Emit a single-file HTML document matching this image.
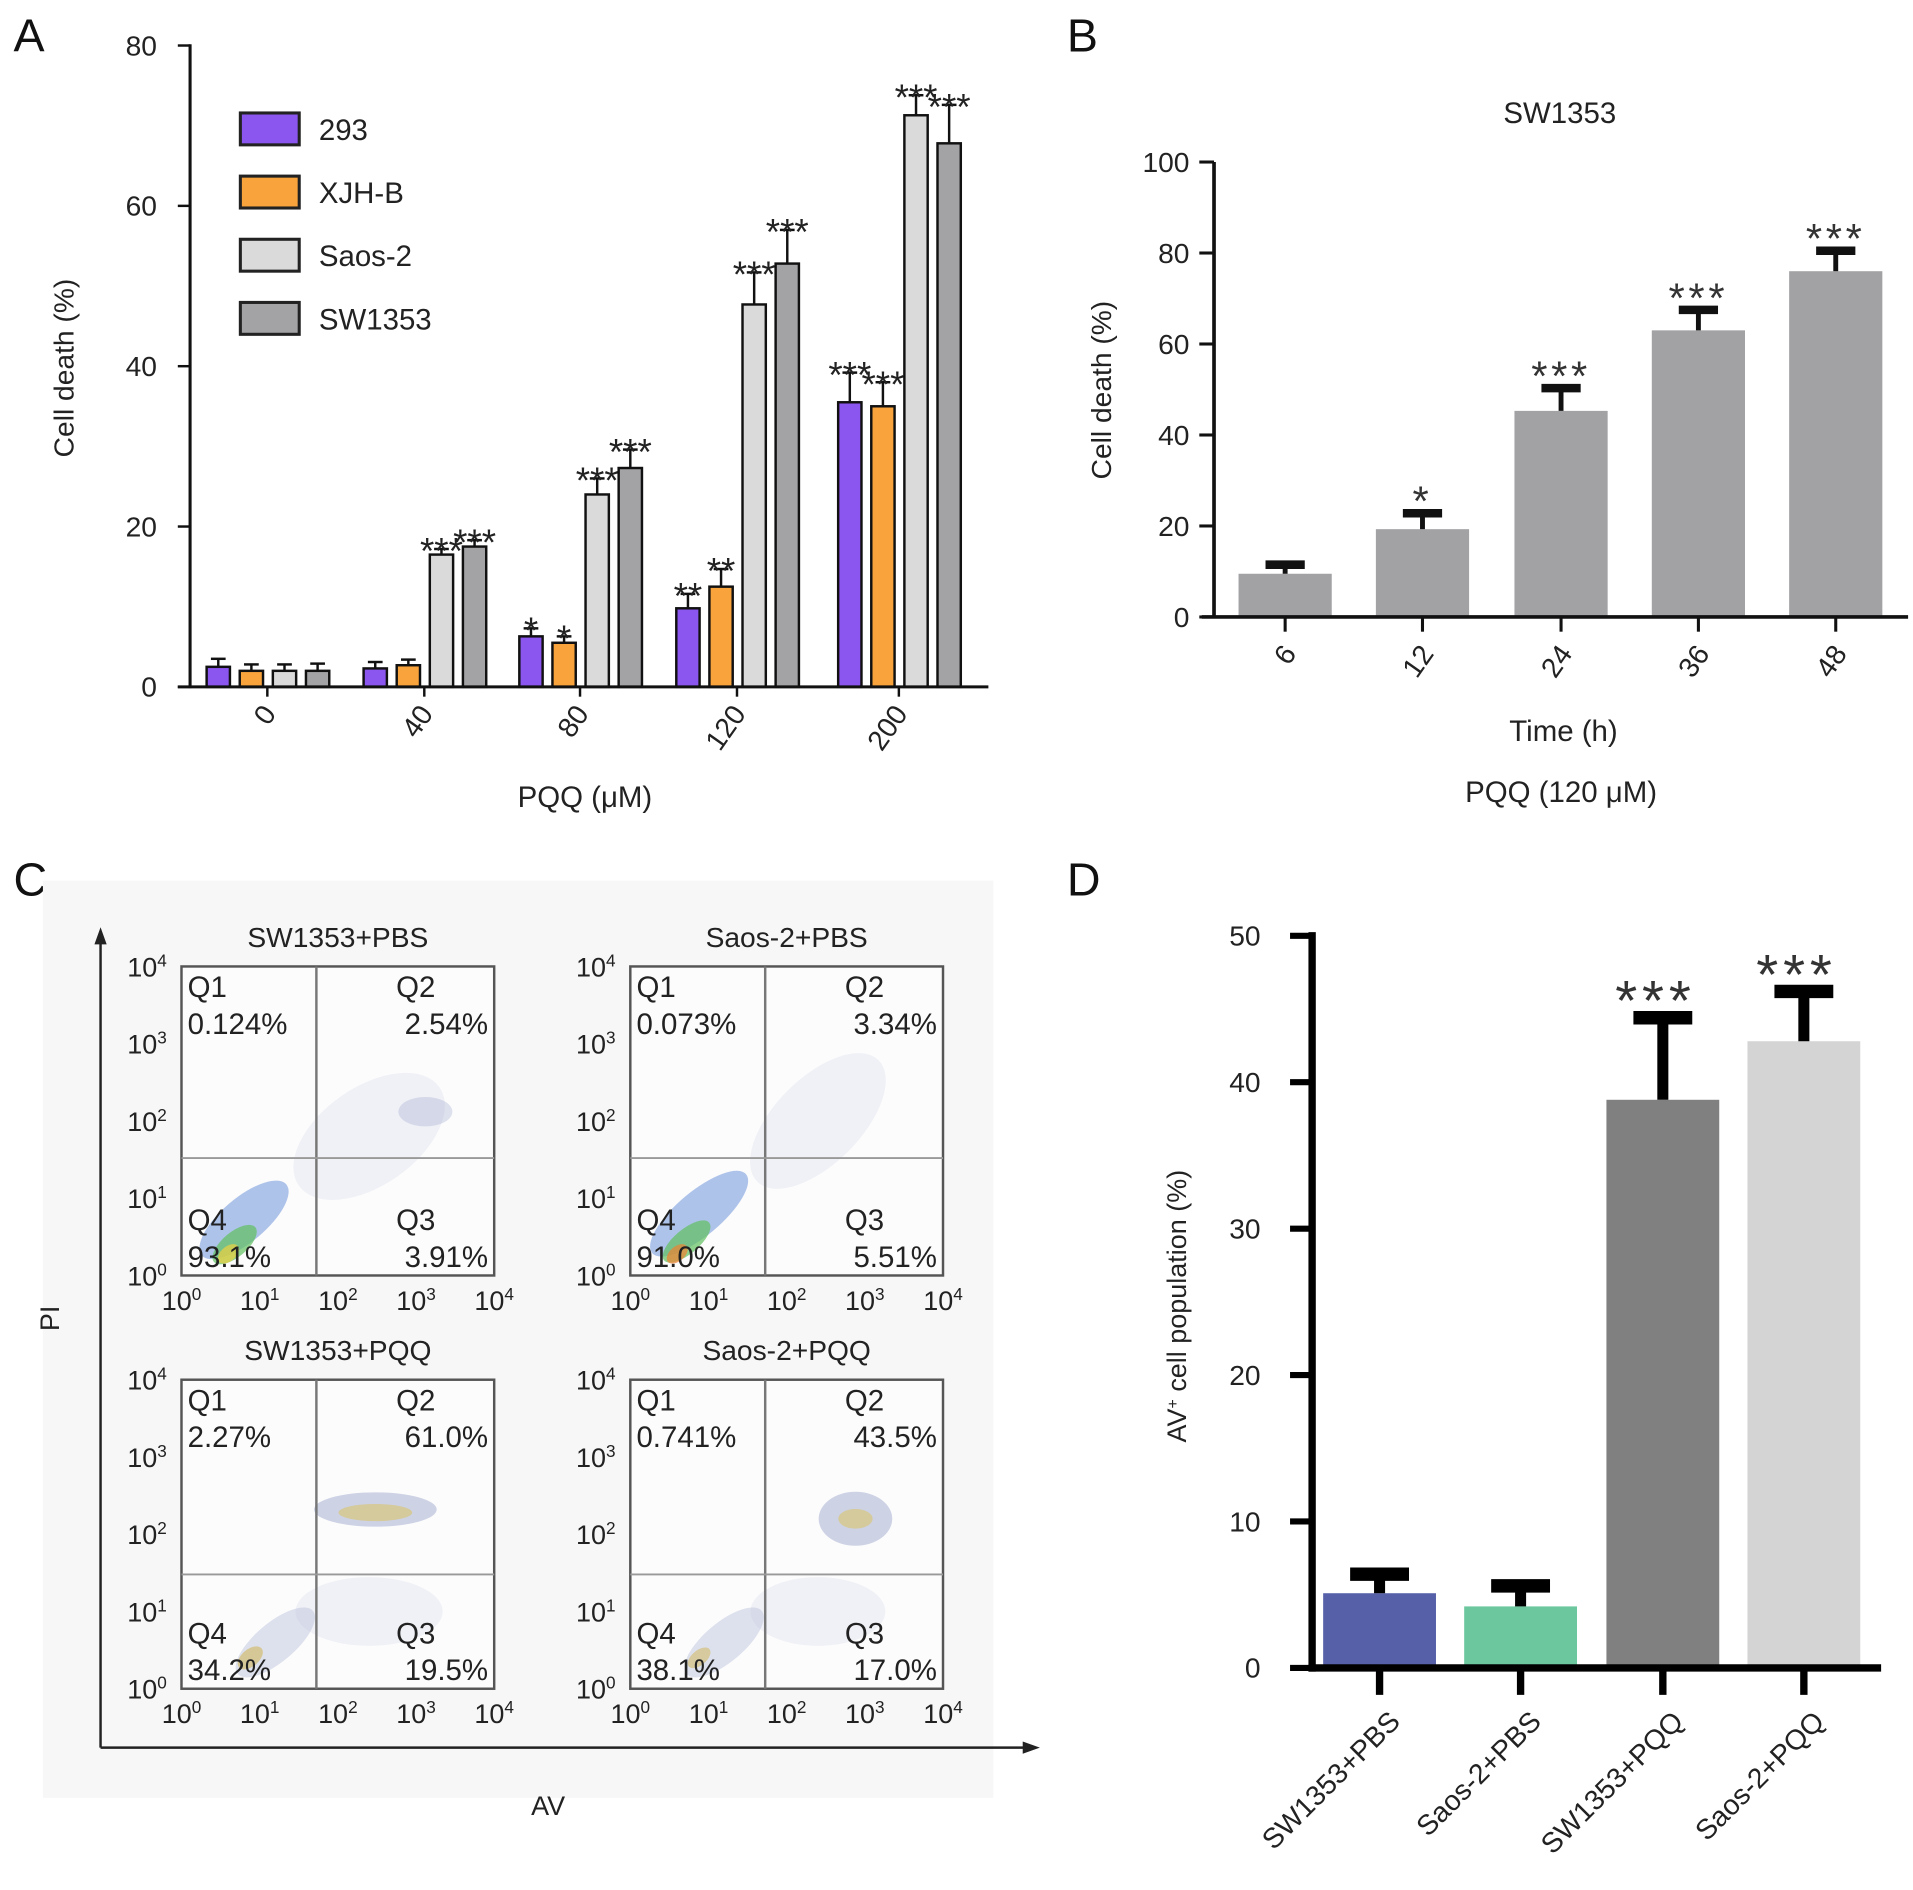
<!DOCTYPE html>
<html><head><meta charset="utf-8"><style>
html,body{margin:0;padding:0;background:#fff;}
svg{display:block;font-family:"Liberation Sans",Arial,sans-serif;}
</style></head><body>
<svg id="fig" width="1913" height="1890" viewBox="0 0 1560 1541" xmlns="http://www.w3.org/2000/svg">
<rect width="1560" height="1541" fill="#fff"/>
</svg>
<script>
// ---- Panel A data ----
const aCategories = ["0","40","80","120","200"];
const aSeriesNames = ["293","XJH-B","Saos-2","SW1353"];
const a293 = [2.5,2.3,6.3,9.8,35.5];
const aXJHB = [2.0,2.7,5.5,12.5,35.0];
const aSaos = [2.0,16.5,24.0,47.7,71.3];
const aSW = [2.0,17.5,27.3,52.8,67.8];
const a293Err = [1.0,0.8,1.0,1.8,3.7];
const aXJHBErr = [0.8,0.7,0.8,2.2,3.0];
const aSaosErr = [0.8,0.7,2.0,4.0,2.5];
const aSWErr = [0.9,0.8,2.3,4.2,4.8];
const a293Stars = ["","","*","**","***"];
const aXJHBStars = ["","","*","**","***"];
const aSaosStars = ["","***","***","***","***"];
const aSWStars = ["","***","***","***","***"];
const aTicks = [0,20,40,60,80];
// ---- Panel B data ----
const bCategories = ["6","12","24","36","48"];
const bValues = [9.5,19.3,45.3,63.0,76.0];
const bErr = [2.0,3.5,5.0,4.5,4.5];
const bStars = ["","*","***","***","***"];
const bTicks = [0,20,40,60,80,100];
// ---- Panel D data ----
const dCategories = ["SW1353+PBS","Saos-2+PBS","SW1353+PQQ","Saos-2+PQQ"];
const dValues = [5.1,4.2,38.8,42.8];
const dErr = [1.3,1.4,5.6,3.4];
const dStars = ["","","***","***"];
const dTicks = [0,10,20,30,40,50];
// ---- Panel C data ----
const cTitles = ["SW1353+PBS","Saos-2+PBS","SW1353+PQQ","Saos-2+PQQ"];
const cQ1 = ["0.124%","0.073%","2.27%","0.741%"];
const cQ2 = ["2.54%","3.34%","61.0%","43.5%"];
const cQ3 = ["3.91%","5.51%","19.5%","17.0%"];
const cQ4 = ["93.1%","91.0%","34.2%","38.1%"];

const NS="http://www.w3.org/2000/svg";
const svg=document.getElementById('fig');
function el(tag,attrs,parent,text){const e=document.createElementNS(NS,tag);for(const k in attrs)e.setAttribute(k,attrs[k]);if(text!==undefined)e.textContent=text;(parent||svg).appendChild(e);return e;}
function grp(name){const g=el('g',{});return g;}

[["A",27,42],["B",886,42],["C",27,730],["D",886,730]].forEach(p=>{
 const t=el('text',{x:p[1]-16,y:p[2],'font-size':38,fill:'#111'},svg,p[0]);
 
 
});

// ===== Panel A =====
(function(){
 const g=grp('panel-a-chart');
 const y0=560,yTop=37,vMax=80;
 const ys=v=>y0-(y0-yTop)*v/vMax;
 const centers=[218,346,473,601,733];
 const offs=[-40,-13,14,41];
 const bw=19;
 const colors=["#8b55f0","#f8a33c","#dadada","#a3a3a6"];
 const vals=[a293,aXJHB,aSaos,aSW],errs=[a293Err,aXJHBErr,aSaosErr,aSWErr],stars=[a293Stars,aXJHBStars,aSaosStars,aSWStars];
 aCategories.forEach((c,i)=>{
  vals.forEach((arr,s)=>{
   const cx=centers[i]+offs[s],v=arr[i],e=errs[s][i];
   const r=el('rect',{x:cx-bw/2,y:ys(v),width:bw,height:y0-ys(v),fill:colors[s],stroke:'#111','stroke-width':2},g);
   
   
   el('line',{x1:cx,x2:cx,y1:ys(v),y2:ys(v+e),stroke:'#111','stroke-width':2},g);
   el('line',{x1:cx-6,x2:cx+6,y1:ys(v+e),y2:ys(v+e),stroke:'#111','stroke-width':2},g);
   if(stars[s][i]){const t=el('text',{x:cx,y:ys(v+e)+12,'font-size':30,'text-anchor':'middle',fill:'#222'},g,stars[s][i]);
    }
  });
  el('line',{x1:centers[i],x2:centers[i],y1:y0,y2:y0+8,stroke:'#111','stroke-width':2},g);
  const t=el('text',{x:0,y:0,'font-size':23,'text-anchor':'end',fill:'#222',transform:`translate(${centers[i]+8},${y0+22}) rotate(-55)`},g,c);
  
 });
 el('line',{x1:155,x2:155,y1:yTop-1,y2:y0+1,stroke:'#111','stroke-width':2.5},g);
 el('line',{x1:145,x2:806,y1:y0,y2:y0,stroke:'#111','stroke-width':2.5},g);
 aTicks.forEach(v=>{el('line',{x1:145,x2:155,y1:ys(v),y2:ys(v),stroke:'#111','stroke-width':2},g);
  const t=el('text',{x:128,y:ys(v)+8,'font-size':23,'text-anchor':'end',fill:'#222'},g,String(v));
  });
 const yt=el('text',{x:0,y:0,'font-size':23,'text-anchor':'middle',fill:'#222',transform:'translate(60,300) rotate(-90)'},g,'Cell death (%)');
 
 const xt=el('text',{x:477,y:658,'font-size':24,'text-anchor':'middle',fill:'#222'},g,'PQQ (μM)');
 
 aSeriesNames.forEach((n,s)=>{
  const yy=105+s*51.5;
  const r=el('rect',{x:196,y:yy-13,width:48,height:26,fill:colors[s],stroke:'#222','stroke-width':2.5},g);
  
  const t=el('text',{x:260,y:yy+9,'font-size':24,fill:'#222'},g,n);
  
 });
})();

// ===== Panel B =====
(function(){
 const g=grp('panel-b-chart');
 const y0=503,yTop=132,vMax=100;
 const ys=v=>y0-(y0-yTop)*v/vMax;
 const centers=[1048,1160,1273,1385,1497],bw=76;
 bCategories.forEach((c,i)=>{
  const cx=centers[i],v=bValues[i],e=bErr[i];
  const r=el('rect',{x:cx-bw/2,y:ys(v),width:bw,height:y0-ys(v),fill:'#a2a2a5'},g);
  
  el('line',{x1:cx,x2:cx,y1:ys(v),y2:ys(v+e),stroke:'#111','stroke-width':4},g);
  el('line',{x1:cx-16,x2:cx+16,y1:ys(v+e),y2:ys(v+e),stroke:'#111','stroke-width':7},g);
  if(bStars[i]){const t=el('text',{x:cx,y:ys(v+e)+2,'font-size':34,'text-anchor':'middle','letter-spacing':3,fill:'#333'},g,bStars[i]);
   }
  el('line',{x1:cx,x2:cx,y1:y0,y2:y0+12,stroke:'#111','stroke-width':2.5},g);
  const t=el('text',{x:0,y:0,'font-size':23,'text-anchor':'end',fill:'#222',transform:`translate(${cx+10},${y0+30}) rotate(-55)`},g,c);
  
 });
 el('line',{x1:990,x2:990,y1:yTop,y2:y0,stroke:'#111','stroke-width':3},g);
 el('line',{x1:980,x2:1556,y1:y0,y2:y0,stroke:'#111','stroke-width':3},g);
 bTicks.forEach(v=>{el('line',{x1:978,x2:990,y1:ys(v),y2:ys(v),stroke:'#111','stroke-width':2.5},g);
  const t=el('text',{x:970,y:ys(v)+8,'font-size':23,'text-anchor':'end',fill:'#222'},g,String(v));
  });
 const tt=el('text',{x:1272,y:100,'font-size':24,'text-anchor':'middle',fill:'#222'},g,'SW1353');
 
 const yt=el('text',{x:0,y:0,'font-size':23,'text-anchor':'middle',fill:'#222',transform:'translate(906,318) rotate(-90)'},g,'Cell death (%)');
 
 const xt=el('text',{x:1275,y:604,'font-size':24,'text-anchor':'middle',fill:'#222'},g,'Time (h)');
 
 const xt2=el('text',{x:1273,y:654,'font-size':24,'text-anchor':'middle',fill:'#222'},g,'PQQ (120 μM)');
 
})();

// ===== Panel D =====
(function(){
 const g=grp('panel-d-chart');
 const y0=1360,yTop=763,vMax=50;
 const ys=v=>y0-(y0-yTop)*v/vMax;
 const centers=[1125,1240,1356,1471],bw=92;
 const colors=["#5560a8","#6cc79f","#808080","#d4d4d4"];
 dCategories.forEach((c,i)=>{
  const cx=centers[i],v=dValues[i],e=dErr[i];
  const r=el('rect',{x:cx-bw/2,y:ys(v),width:bw,height:y0-ys(v),fill:colors[i]},g);
  
  el('line',{x1:cx,x2:cx,y1:ys(v),y2:ys(v+e),stroke:'#000','stroke-width':9},g);
  el('line',{x1:cx-24,x2:cx+24,y1:ys(v+e),y2:ys(v+e),stroke:'#000','stroke-width':11},g);
  if(dStars[i]){const t=el('text',{x:cx-6,y:ys(v+e)+2,'font-size':46,'text-anchor':'middle','letter-spacing':4,fill:'#333'},g,dStars[i]);
   }
  el('line',{x1:cx,x2:cx,y1:y0,y2:y0+22,stroke:'#000','stroke-width':6},g);
  const t=el('text',{x:0,y:0,'font-size':23,'text-anchor':'end',fill:'#222',transform:`translate(${cx+18},${y0+45}) rotate(-45)`},g,c);
  
 });
 el('line',{x1:1070,x2:1070,y1:yTop-3,y2:y0+3,stroke:'#000','stroke-width':6},g);
 el('line',{x1:1067,x2:1534,y1:y0,y2:y0,stroke:'#000','stroke-width':6},g);
 dTicks.forEach(v=>{el('line',{x1:1052,x2:1070,y1:ys(v),y2:ys(v),stroke:'#000','stroke-width':5},g);
  const t=el('text',{x:1028,y:ys(v)+8,'font-size':23,'text-anchor':'end',fill:'#222'},g,String(v));
  });
 const yt=el('text',{x:0,y:0,'font-size':22,'text-anchor':'middle',fill:'#222',transform:'translate(967,1065) rotate(-90)'},g);
 el('tspan',{},yt,'AV');el('tspan',{'baseline-shift':'super','font-size':13},yt,'+');el('tspan',{},yt,' cell population (%)');
 
})();

// ===== Panel C =====
(function(){
 const g=grp('panel-c-flow');
 el('rect',{x:35,y:718,width:775,height:748,fill:'#f7f7f7'},g);
 el('line',{x1:82,x2:82,y1:1425,y2:768,stroke:'#222','stroke-width':2},g);
 el('polygon',{points:'82,756 77,770 87,770',fill:'#222'},g);
 el('line',{x1:82,x2:838,y1:1425,y2:1425,stroke:'#222','stroke-width':2},g);
 el('polygon',{points:'848,1425 834,1420 834,1430',fill:'#222'},g);
 const pi=el('text',{x:0,y:0,'font-size':22,'text-anchor':'middle',fill:'#222',transform:'translate(48,1075) rotate(-90)'},g,'PI');
 
 const av=el('text',{x:447,y:1480,'font-size':22,'text-anchor':'middle',fill:'#222'},g,'AV');
 
 const boxes=[[148,788],[514,788],[148,1125],[514,1125]];
 const W=255,H=252;
 const blobs=[
  [[0.2,0.82,45,18,-40,'#3a6fd0',0.4],[0.17,0.9,22,10,-40,'#5fc060',0.7],[0.15,0.93,10,6,-40,'#f0d040',0.7],[0.6,0.55,70,40,-35,'#b0b8d8',0.15],[0.78,0.47,22,12,0,'#8090c0',0.25]],
  [[0.22,0.8,50,18,-40,'#3a6fd0',0.4],[0.18,0.89,24,10,-40,'#5fc060',0.7],[0.15,0.93,10,6,-40,'#f08030',0.7],[0.6,0.5,70,35,-45,'#b0b8d8',0.15]],
  [[0.3,0.85,40,16,-40,'#8090c0',0.25],[0.62,0.42,50,14,0,'#6070b0',0.3],[0.62,0.43,30,7,0,'#e0c040',0.45],[0.6,0.75,60,28,0,'#b0b8d8',0.15],[0.22,0.9,12,7,-40,'#d0b040',0.5]],
  [[0.3,0.85,40,16,-40,'#8090c0',0.25],[0.72,0.45,30,22,0,'#6070b0',0.3],[0.72,0.45,14,8,0,'#e0c040',0.45],[0.6,0.75,55,28,0,'#b0b8d8',0.15],[0.22,0.9,11,6,-40,'#d0b040',0.45]]
 ];
 const hLine=[0.62,0.62,0.63,0.63];
 const exps=["0","1","2","3","4"];
 cTitles.forEach((title,k)=>{
  const [bx,by]=boxes[k];
  const pg=el('g',{},g);
  
  
  el('rect',{x:bx,y:by,width:W,height:H,fill:'#fcfcfc',stroke:'#555','stroke-width':2},pg);
  blobs[k].forEach(b=>{el('ellipse',{cx:0,cy:0,rx:b[2],ry:b[3],fill:b[5],'fill-opacity':b[6],transform:`translate(${bx+b[0]*W},${by+b[1]*H}) rotate(${b[4]})`},pg);});
  el('line',{x1:bx+110,x2:bx+110,y1:by,y2:by+H,stroke:'#777','stroke-width':2},pg);
  el('line',{x1:bx,x2:bx+W,y1:by+hLine[k]*H,y2:by+hLine[k]*H,stroke:'#999','stroke-width':1.5},pg);
  const tt=el('text',{x:bx+W/2,y:by-16,'font-size':23,'text-anchor':'middle',fill:'#222'},pg,title);
  
  const qs=[["Q1",cQ1[k],bx+5,by+25,'start'],["Q2",cQ2[k],bx+W-5,by+25,'end'],["Q4",cQ4[k],bx+5,by+215,'start'],["Q3",cQ3[k],bx+W-5,by+215,'end']];
  qs.forEach(q=>{
   const t1=el('text',{x:q[0]==='Q2'||q[0]==='Q3'?bx+175:q[2],y:q[3],'font-size':24,fill:'#222'},pg,q[0]);
   
   const t2=el('text',{x:q[2],y:q[3]+30,'font-size':24,'text-anchor':q[4],fill:'#222'},pg,q[1]);
   
  });
  exps.forEach((e,i)=>{
   const yy=by+H-i*H/4;
   const t=el('text',{x:bx-12,y:yy+8,'font-size':22,'text-anchor':'end',fill:'#222'},pg);
   el('tspan',{},t,'10');el('tspan',{'baseline-shift':'super','font-size':14},t,e);
   
   const xx=bx+i*W/4;
   const t3=el('text',{x:xx,y:by+H+28,'font-size':22,'text-anchor':'middle',fill:'#222'},pg);
   el('tspan',{},t3,'10');el('tspan',{'baseline-shift':'super','font-size':14},t3,e);
   
  });
 });
})();
</script>
</body></html>
